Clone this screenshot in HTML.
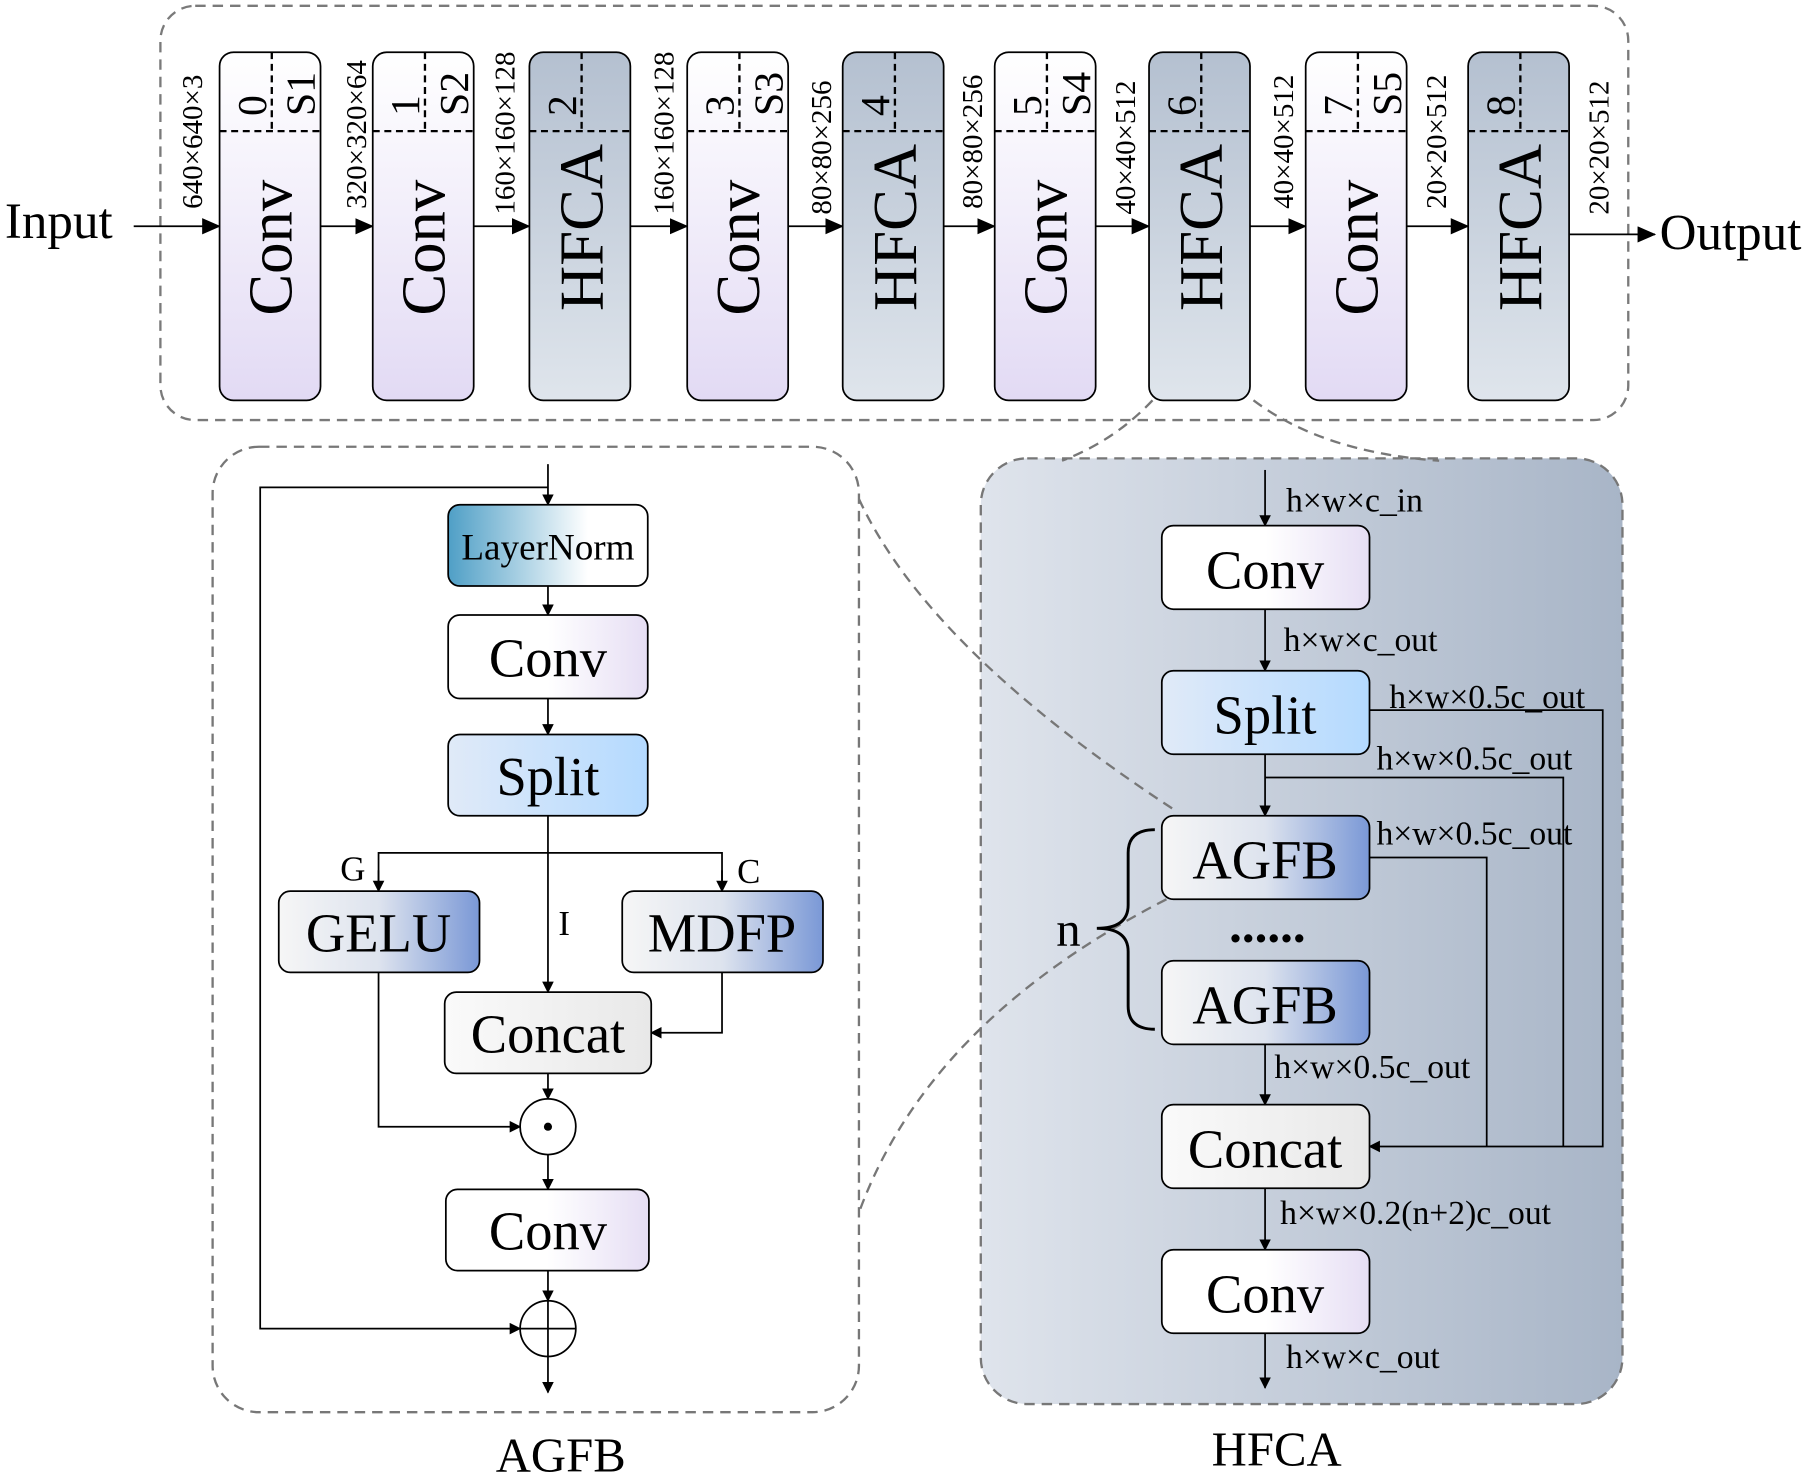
<!DOCTYPE html>
<html><head><meta charset="utf-8"><style>
html,body{margin:0;padding:0;background:#fff;}
svg{display:block;}
text{font-family:"Liberation Serif",serif;fill:#000;}
</style></head><body>
<svg width="1820" height="1476" viewBox="0 0 1568 1272" xmlns="http://www.w3.org/2000/svg">
<defs>
<linearGradient id="gConv" x1="0" y1="0" x2="0" y2="1"><stop offset="0" stop-color="#fff"/><stop offset="1" stop-color="#e2daf4"/></linearGradient>
<linearGradient id="gH" x1="0" y1="0" x2="0" y2="1"><stop offset="0" stop-color="#b4c0d0"/><stop offset="1" stop-color="#dfe5ec"/></linearGradient>
<linearGradient id="gConvH" x1="0" y1="0" x2="1" y2="0"><stop offset="0" stop-color="#fff"/><stop offset="0.5" stop-color="#fff"/><stop offset="1" stop-color="#e6def4"/></linearGradient>
<linearGradient id="gLN" x1="0" y1="0" x2="1" y2="0"><stop offset="0" stop-color="#4f9fc6"/><stop offset="0.7" stop-color="#fff"/><stop offset="1" stop-color="#fff"/></linearGradient>
<linearGradient id="gSplit" x1="0" y1="0" x2="1" y2="0"><stop offset="0" stop-color="#e0eaf8"/><stop offset="1" stop-color="#b4daff"/></linearGradient>
<linearGradient id="gBlue" x1="0" y1="0" x2="1" y2="0"><stop offset="0" stop-color="#f6f6f6"/><stop offset="0.5" stop-color="#dde3ee"/><stop offset="1" stop-color="#7a98d6"/></linearGradient>
<linearGradient id="gGray" x1="0" y1="0" x2="1" y2="0"><stop offset="0" stop-color="#fafafa"/><stop offset="1" stop-color="#e8e8e8"/></linearGradient>
<linearGradient id="gPanel" x1="0" y1="0" x2="1" y2="0"><stop offset="0" stop-color="#dfe4ec"/><stop offset="1" stop-color="#a8b5c7"/></linearGradient>
<marker id="ar" markerWidth="10" markerHeight="10" refX="9" refY="5" orient="auto" markerUnits="userSpaceOnUse"><path d="M0,0 L10,5 L0,10 z" fill="#000"/></marker>
<marker id="ar2" markerWidth="16" markerHeight="14" refX="15" refY="7" orient="auto" markerUnits="userSpaceOnUse"><path d="M0,0 L16,7 L0,14 z" fill="#000"/></marker>
</defs>

<rect x="138" y="5" width="1265" height="357" rx="30" fill="none" stroke="#7a7a7a" stroke-width="2" stroke-dasharray="9,6"/>
<g stroke="#000" stroke-width="1.5" fill="none">
<line x1="115" y1="195" x2="189" y2="195" marker-end="url(#ar2)"/>
<line x1="276" y1="195" x2="321" y2="195" marker-end="url(#ar2)"/>
<line x1="408" y1="195" x2="456" y2="195" marker-end="url(#ar2)"/>
<line x1="543" y1="195" x2="592" y2="195" marker-end="url(#ar2)"/>
<line x1="679" y1="195" x2="726" y2="195" marker-end="url(#ar2)"/>
<line x1="813" y1="195" x2="857" y2="195" marker-end="url(#ar2)"/>
<line x1="944" y1="195" x2="990" y2="195" marker-end="url(#ar2)"/>
<line x1="1077" y1="195" x2="1125" y2="195" marker-end="url(#ar2)"/>
<line x1="1212" y1="195" x2="1265" y2="195" marker-end="url(#ar2)"/>
<line x1="1352" y1="202" x2="1426" y2="202" marker-end="url(#ar2)"/>
</g>
<text x="4" y="205" font-size="44">Input</text>
<text x="1430" y="215" font-size="44">Output</text>

<g>
<g transform="translate(189,0)"><rect x="0" y="45" width="87" height="300" rx="12" fill="url(#gConv)" stroke="#000" stroke-width="1.5"/><line x1="0" y1="113" x2="87" y2="113" stroke="#000" stroke-width="2" stroke-dasharray="6,4"/><line x1="45" y1="45" x2="45" y2="113" stroke="#000" stroke-width="2" stroke-dasharray="6,4"/><text transform="translate(62,272) rotate(-90)" font-size="54">Conv</text><text transform="translate(40,100) rotate(-90)" font-size="36">0</text><text transform="translate(82,100) rotate(-90)" font-size="36">S1</text></g>
<g transform="translate(321,0)"><rect x="0" y="45" width="87" height="300" rx="12" fill="url(#gConv)" stroke="#000" stroke-width="1.5"/><line x1="0" y1="113" x2="87" y2="113" stroke="#000" stroke-width="2" stroke-dasharray="6,4"/><line x1="45" y1="45" x2="45" y2="113" stroke="#000" stroke-width="2" stroke-dasharray="6,4"/><text transform="translate(62,272) rotate(-90)" font-size="54">Conv</text><text transform="translate(40,100) rotate(-90)" font-size="36">1</text><text transform="translate(82,100) rotate(-90)" font-size="36">S2</text></g>
<g transform="translate(456,0)"><rect x="0" y="45" width="87" height="300" rx="12" fill="url(#gH)" stroke="#000" stroke-width="1.5"/><line x1="0" y1="113" x2="87" y2="113" stroke="#000" stroke-width="2" stroke-dasharray="6,4"/><line x1="45" y1="45" x2="45" y2="113" stroke="#000" stroke-width="2" stroke-dasharray="6,4"/><text transform="translate(63,268) rotate(-90)" font-size="54">HFCA</text><text transform="translate(40,100) rotate(-90)" font-size="36">2</text></g>
<g transform="translate(592,0)"><rect x="0" y="45" width="87" height="300" rx="12" fill="url(#gConv)" stroke="#000" stroke-width="1.5"/><line x1="0" y1="113" x2="87" y2="113" stroke="#000" stroke-width="2" stroke-dasharray="6,4"/><line x1="45" y1="45" x2="45" y2="113" stroke="#000" stroke-width="2" stroke-dasharray="6,4"/><text transform="translate(62,272) rotate(-90)" font-size="54">Conv</text><text transform="translate(40,100) rotate(-90)" font-size="36">3</text><text transform="translate(82,100) rotate(-90)" font-size="36">S3</text></g>
<g transform="translate(726,0)"><rect x="0" y="45" width="87" height="300" rx="12" fill="url(#gH)" stroke="#000" stroke-width="1.5"/><line x1="0" y1="113" x2="87" y2="113" stroke="#000" stroke-width="2" stroke-dasharray="6,4"/><line x1="45" y1="45" x2="45" y2="113" stroke="#000" stroke-width="2" stroke-dasharray="6,4"/><text transform="translate(63,268) rotate(-90)" font-size="54">HFCA</text><text transform="translate(40,100) rotate(-90)" font-size="36">4</text></g>
<g transform="translate(857,0)"><rect x="0" y="45" width="87" height="300" rx="12" fill="url(#gConv)" stroke="#000" stroke-width="1.5"/><line x1="0" y1="113" x2="87" y2="113" stroke="#000" stroke-width="2" stroke-dasharray="6,4"/><line x1="45" y1="45" x2="45" y2="113" stroke="#000" stroke-width="2" stroke-dasharray="6,4"/><text transform="translate(62,272) rotate(-90)" font-size="54">Conv</text><text transform="translate(40,100) rotate(-90)" font-size="36">5</text><text transform="translate(82,100) rotate(-90)" font-size="36">S4</text></g>
<g transform="translate(990,0)"><rect x="0" y="45" width="87" height="300" rx="12" fill="url(#gH)" stroke="#000" stroke-width="1.5"/><line x1="0" y1="113" x2="87" y2="113" stroke="#000" stroke-width="2" stroke-dasharray="6,4"/><line x1="45" y1="45" x2="45" y2="113" stroke="#000" stroke-width="2" stroke-dasharray="6,4"/><text transform="translate(63,268) rotate(-90)" font-size="54">HFCA</text><text transform="translate(40,100) rotate(-90)" font-size="36">6</text></g>
<g transform="translate(1125,0)"><rect x="0" y="45" width="87" height="300" rx="12" fill="url(#gConv)" stroke="#000" stroke-width="1.5"/><line x1="0" y1="113" x2="87" y2="113" stroke="#000" stroke-width="2" stroke-dasharray="6,4"/><line x1="45" y1="45" x2="45" y2="113" stroke="#000" stroke-width="2" stroke-dasharray="6,4"/><text transform="translate(62,272) rotate(-90)" font-size="54">Conv</text><text transform="translate(40,100) rotate(-90)" font-size="36">7</text><text transform="translate(82,100) rotate(-90)" font-size="36">S5</text></g>
<g transform="translate(1265,0)"><rect x="0" y="45" width="87" height="300" rx="12" fill="url(#gH)" stroke="#000" stroke-width="1.5"/><line x1="0" y1="113" x2="87" y2="113" stroke="#000" stroke-width="2" stroke-dasharray="6,4"/><line x1="45" y1="45" x2="45" y2="113" stroke="#000" stroke-width="2" stroke-dasharray="6,4"/><text transform="translate(63,268) rotate(-90)" font-size="54">HFCA</text><text transform="translate(40,100) rotate(-90)" font-size="36">8</text></g>
</g>

<g font-size="25">
<text transform="translate(174,180) rotate(-90)">640×640×3</text>
<text transform="translate(315,180) rotate(-90)">320×320×64</text>
<text transform="translate(443,185) rotate(-90)">160×160×128</text>
<text transform="translate(580,185) rotate(-90)">160×160×128</text>
<text transform="translate(716,185) rotate(-90)">80×80×256</text>
<text transform="translate(846,180) rotate(-90)">80×80×256</text>
<text transform="translate(978,185) rotate(-90)">40×40×512</text>
<text transform="translate(1114,180) rotate(-90)">40×40×512</text>
<text transform="translate(1246,180) rotate(-90)">20×20×512</text>
<text transform="translate(1386,185) rotate(-90)">20×20×512</text>
</g>

<rect x="845" y="395" width="553" height="815" rx="40" fill="url(#gPanel)" stroke="#777" stroke-width="2" stroke-dasharray="9,6"/>

<g stroke="#777" stroke-width="2" fill="none" stroke-dasharray="9,6">
<path d="M993,345 Q960,380 915,397"/>
<path d="M1080,345 Q1140,390 1240,397"/>
<path d="M740,430 Q800,560 1015,700"/>
<path d="M1005,775 Q800,880 740,1045"/>
</g>

<rect x="183" y="385" width="557" height="832" rx="40" fill="none" stroke="#777" stroke-width="2" stroke-dasharray="9,6"/>
<g stroke="#000" stroke-width="1.5" fill="none">
<line x1="472" y1="400" x2="472" y2="435" marker-end="url(#ar)"/>
<line x1="472" y1="505" x2="472" y2="530" marker-end="url(#ar)"/>
<line x1="472" y1="602" x2="472" y2="633" marker-end="url(#ar)"/>
<line x1="472" y1="703" x2="472" y2="855" marker-end="url(#ar)"/>
<polyline points="326,768 326,735 622,735 622,768" />
<line x1="326" y1="750" x2="326" y2="768" marker-end="url(#ar)"/>
<line x1="622" y1="750" x2="622" y2="768" marker-end="url(#ar)"/>
<polyline points="326,838 326,971 448,971" marker-end="url(#ar)"/>
<polyline points="622,838 622,890 561,890" marker-end="url(#ar)"/>
<line x1="472" y1="925" x2="472" y2="947" marker-end="url(#ar)"/>
<line x1="472" y1="995" x2="472" y2="1025" marker-end="url(#ar)"/>
<line x1="472" y1="1095" x2="472" y2="1121" marker-end="url(#ar)"/>
<line x1="472" y1="1169" x2="472" y2="1200" marker-end="url(#ar)"/>
<polyline points="472,420 224,420 224,1145 448,1145" marker-end="url(#ar)"/>
<circle cx="472" cy="971" r="24" fill="#fff"/>
<circle cx="472" cy="1145" r="24" fill="#fff"/>
<line x1="448" y1="1145" x2="496" y2="1145"/>
<line x1="472" y1="1121" x2="472" y2="1169"/>
</g>
<circle cx="472" cy="971" r="3.5" fill="#000"/>
<g stroke="#000" stroke-width="1.5">
<rect x="386" y="435" width="172" height="70" rx="10" fill="url(#gLN)"/>
<rect x="386" y="530" width="172" height="72" rx="10" fill="url(#gConvH)"/>
<rect x="386" y="633" width="172" height="70" rx="10" fill="url(#gSplit)"/>
<rect x="240" y="768" width="173" height="70" rx="10" fill="url(#gBlue)"/>
<rect x="536" y="768" width="173" height="70" rx="10" fill="url(#gBlue)"/>
<rect x="383" y="855" width="178" height="70" rx="10" fill="url(#gGray)"/>
<rect x="384" y="1025" width="175" height="70" rx="10" fill="url(#gConvH)"/>
</g>
<g font-size="47" text-anchor="middle">
<text x="472" y="482" font-size="32">LayerNorm</text>
<text x="472" y="583">Conv</text>
<text x="472" y="685">Split</text>
<text x="326" y="820">GELU</text>
<text x="622" y="820">MDFP</text>
<text x="472" y="907">Concat</text>
<text x="472" y="1077">Conv</text>
</g>
<text x="293" y="759" font-size="30">G</text>
<text x="635" y="761" font-size="30">C</text>
<text x="481" y="806" font-size="30">I</text>
<text x="483" y="1268" font-size="42" text-anchor="middle">AGFB</text>

<g stroke="#000" stroke-width="1.5" fill="none">
<line x1="1090" y1="405" x2="1090" y2="453" marker-end="url(#ar)"/>
<line x1="1090" y1="525" x2="1090" y2="578" marker-end="url(#ar)"/>
<line x1="1090" y1="650" x2="1090" y2="703" marker-end="url(#ar)"/>
<polyline points="1180,612 1381,612 1381,988 1180,988" marker-end="url(#ar)"/>
<polyline points="1090,670 1347,670 1347,988"/>
<polyline points="1180,739 1281,739 1281,988"/>
<line x1="1090" y1="900" x2="1090" y2="952" marker-end="url(#ar)"/>
<line x1="1090" y1="1024" x2="1090" y2="1077" marker-end="url(#ar)"/>
<line x1="1090" y1="1149" x2="1090" y2="1196" marker-end="url(#ar)"/>
<path d="M995,715 Q972,715 972,735 L972,780 Q972,800 945,800 Q972,800 972,820 L972,867 Q972,887 995,887" stroke-width="2.5"/>
</g>
<g stroke="#000" stroke-width="1.5">
<rect x="1001" y="453" width="179" height="72" rx="10" fill="url(#gConvH)"/>
<rect x="1001" y="578" width="179" height="72" rx="10" fill="url(#gSplit)"/>
<rect x="1001" y="703" width="179" height="72" rx="10" fill="url(#gBlue)"/>
<rect x="1001" y="828" width="179" height="72" rx="10" fill="url(#gBlue)"/>
<rect x="1001" y="952" width="179" height="72" rx="10" fill="url(#gGray)"/>
<rect x="1001" y="1077" width="179" height="72" rx="10" fill="url(#gConvH)"/>
</g>
<g font-size="47" text-anchor="middle">
<text x="1090" y="507">Conv</text>
<text x="1090" y="632">Split</text>
<text x="1090" y="757">AGFB</text>
<text x="1092" y="812" font-weight="bold" font-size="44">......</text>
<text x="1090" y="882">AGFB</text>
<text x="1090" y="1006">Concat</text>
<text x="1090" y="1131">Conv</text>
</g>
<g font-size="29">
<text x="1108" y="441">h×w×c_in</text>
<text x="1106" y="561">h×w×c_out</text>
<text x="1197" y="610">h×w×0.5c_out</text>
<text x="1186" y="663">h×w×0.5c_out</text>
<text x="1186" y="728">h×w×0.5c_out</text>
<text x="1098" y="929">h×w×0.5c_out</text>
<text x="1103" y="1055">h×w×0.2(n+2)c_out</text>
<text x="1108" y="1179">h×w×c_out</text>
</g>
<text x="910" y="815" font-size="42">n</text>
<text x="1100" y="1263" font-size="42" text-anchor="middle">HFCA</text>
</svg>
</body></html>
